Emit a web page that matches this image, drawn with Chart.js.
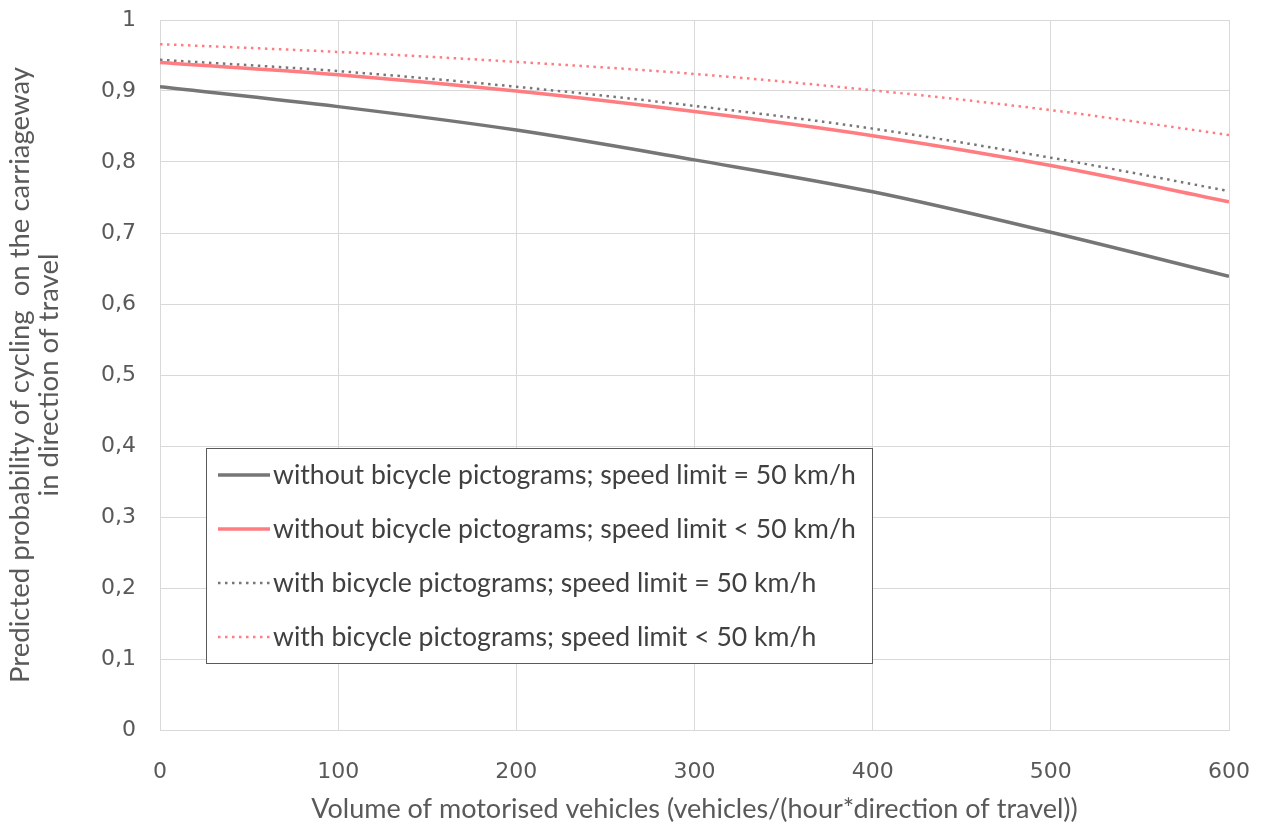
<!DOCTYPE html>
<html>
<head>
<meta charset="utf-8">
<script src="https://cdn.jsdelivr.net/npm/chart.js@4.4.1/dist/chart.umd.min.js"></script>
<style>
  html, body { margin: 0; padding: 0; background: #ffffff; }
  #wrap { width: 1262px; height: 825px; }
</style>
</head>
<body>
<div id="wrap"><canvas id="chart" width="1262" height="825"></canvas></div>
<script>
// x values (vehicles/(hour*direction))
const volumes = [0, 100, 200, 300, 400, 500, 600];
// predicted probability
const withoutEq50 = [0.906, 0.878, 0.845, 0.803, 0.758, 0.701, 0.639];
const withoutLt50 = [0.940, 0.923, 0.900, 0.871, 0.837, 0.795, 0.744];
const withEq50 = [0.944, 0.928, 0.906, 0.879, 0.847, 0.806, 0.759];
const withLt50 = [0.966, 0.955, 0.941, 0.924, 0.901, 0.873, 0.838];
const seriesNames = [
  "without bicycle pictograms; speed limit = 50 km/h",
  "without bicycle pictograms; speed limit < 50 km/h",
  "with bicycle pictograms; speed limit = 50 km/h",
  "with bicycle pictograms; speed limit < 50 km/h",
];

const GRAY = "#767676";
const PINK = "#ff7c80";
const TEXT = "#595959";
const TICK_FONT = "'DejaVu Sans', sans-serif";
const LABEL_FONT = "Lato, 'Open Sans', sans-serif";

const toPoints = (ys) => volumes.map((x, i) => ({ x: x, y: ys[i] }));

// draws the boxed legend inside the plot, like the Excel one
const boxLegend = {
  id: "boxLegend",
  afterDraw(chart) {
    const ctx = chart.ctx;
    const area = chart.chartArea;
    const left = area.left + 46, top = 448, w = 666, h = 215;
    ctx.save();
    ctx.fillStyle = "#ffffff";
    ctx.fillRect(left, top, w, h);
    ctx.strokeStyle = "#5a5a5a";
    ctx.lineWidth = 1;
    ctx.strokeRect(left + 0.5, top + 0.5, w, h);
    chart.data.datasets.forEach((ds, i) => {
      const y = top + 27 + i * 54;
      ctx.beginPath();
      ctx.strokeStyle = ds.borderColor;
      ctx.lineWidth = ds.borderWidth;
      ctx.setLineDash(ds.borderDash || []);
      ctx.moveTo(left + 12, y);
      ctx.lineTo(left + 64, y);
      ctx.stroke();
      ctx.setLineDash([]);
      ctx.fillStyle = "#404040";
      ctx.font = "26.6px " + LABEL_FONT;
      ctx.textBaseline = "middle";
      ctx.fillText(ds.label, left + 67, y);
    });
    ctx.restore();
  },
};

new Chart(document.getElementById("chart"), {
  type: "line",
  plugins: [boxLegend],
  data: {
    datasets: [
      { label: seriesNames[0], data: toPoints(withoutEq50), borderColor: GRAY, borderWidth: 3.5 },
      { label: seriesNames[1], data: toPoints(withoutLt50), borderColor: PINK, borderWidth: 3.5 },
      { label: seriesNames[2], data: toPoints(withEq50), borderColor: GRAY, borderWidth: 2.5, borderDash: [2.5, 4.5] },
      { label: seriesNames[3], data: toPoints(withLt50), borderColor: PINK, borderWidth: 2.5, borderDash: [2.5, 4.5] },
    ],
  },
  options: {
    responsive: false,
    animation: false,
    layout: { padding: { left: 0, right: 33, top: 20, bottom: 0 } },
    elements: {
      point: { radius: 0, hoverRadius: 0 },
      line: { cubicInterpolationMode: "monotone", fill: false },
    },
    plugins: {
      legend: { display: false },
      tooltip: { enabled: false },
    },
    scales: {
      x: {
        type: "linear",
        min: 0,
        max: 600,
        afterFit: (s) => { s.height = 95; s.paddingLeft = 0; s.paddingRight = 0; },
        ticks: { stepSize: 100, color: TEXT, font: { family: TICK_FONT, size: 22 }, padding: 29, maxRotation: 0 },
        grid: { color: "#d9d9d9", lineWidth: 1, drawTicks: false },
        border: { color: "#d9d9d9" },
        title: {
          display: true,
          text: "Volume of motorised vehicles (vehicles/(hour*direction of travel))",
          color: TEXT,
          font: { family: LABEL_FONT, size: 27 },
          padding: { top: 0, bottom: 0 },
        },
      },
      y: {
        min: 0,
        max: 1,
        afterFit: (s) => { s.width = 160; s.paddingTop = 0; s.paddingBottom = 0; },
        ticks: {
          stepSize: 0.1,
          color: TEXT,
          font: { family: TICK_FONT, size: 22 },
          padding: 24,
          callback: (v) => (v === 0 || v === 1 ? String(v) : v.toFixed(1).replace(".", ",")),
        },
        grid: { color: "#d9d9d9", lineWidth: 1, drawTicks: false },
        border: { color: "#d9d9d9" },
        title: {
          display: true,
          text: ["Predicted probability of cycling  on the carriageway", "in direction of travel"],
          color: TEXT,
          font: { family: LABEL_FONT, size: 27.5, lineHeight: 1.08 },
          padding: { top: 5, bottom: 0 },
        },
      },
    },
  },
});
</script>
</body>
</html>
